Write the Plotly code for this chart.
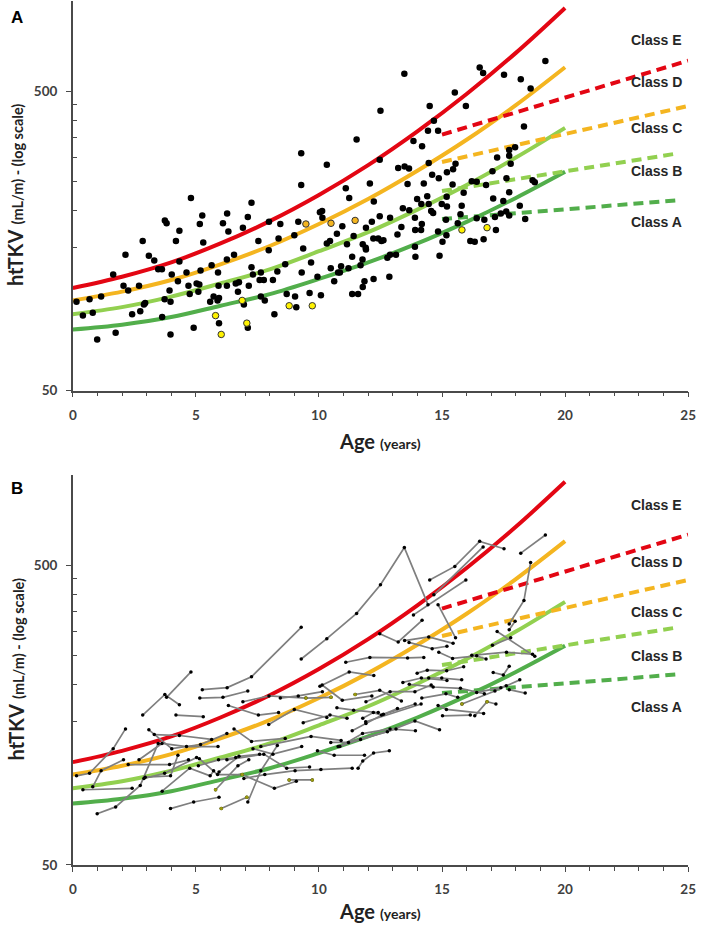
import math
import plotly.graph_objects as go

# ---------------- data ----------------
# class-boundary curves (htTKV, mL/m) read at ages 0..20
curve_age = [0, 2, 4, 6, 8, 10, 12, 14, 16, 18, 20]
bound_DE = [110, 120, 134, 155, 184, 225, 283, 367, 489, 671, 948]   # red
bound_CD = [100, 107, 117, 132, 152, 180, 218, 271, 344, 449, 601]   # yellow
bound_BC = [90, 95, 103, 114, 127, 146, 169, 201, 243, 300, 377]     # light green
bound_AB = [80, 83, 88, 96, 105, 118, 134, 155, 183, 220, 269]       # dark green

# adult (dashed) class boundaries
adult_age_DE = [15, 25]
adult_DE = [358, 632]
adult_age_CD = [15, 25]
adult_CD = [290, 446]
adult_age_BC = [15, 24.6]
adult_BC = [232, 310]
adult_age_AB = [15, 24.6]
adult_AB = [187, 216]

class_labels = ["Class E", "Class D", "Class C", "Class B", "Class A"]

# observations (age in years, htTKV)
obs_age = [9.28, 9.28, 13.47, 16.53, 16.67, 17.52, 18.2, 19.2, 18.6, 15.52, 14.5, 15.97, 12.5,
           14.67, 14.43, 14.84, 11.53, 18.33, 13.84, 14.19, 10.32, 12.47, 13.22, 13.48, 13.66,
           14.46, 15.55, 15.45, 15.2, 14.6, 14.87, 17.24, 17.73, 17.97, 17.73, 17.79, 17.05,
           17.62, 12.07, 11.09, 13.6, 14.26, 15.43, 16.21, 16.41, 16.79, 18.68, 18.77,
           4.8, 7.26, 6.27, 5.26, 7.11, 3.74, 3.81, 5.16, 6.1, 7.97, 8.43, 9.16, 4.33, 6.32, 6.91,
           2.84, 4.19, 5.3, 7.54, 8.36, 9.0, 9.36, 7.96, 2.14, 3.09, 3.31, 4.33, 6.55, 6.26, 3.47,
           3.62, 1.64, 4.02, 4.62, 5.19, 5.64, 5.9, 7.26, 7.32, 7.64, 7.59, 7.76, 8.31, 8.63, 9.3,
           9.68, 8.13, 2.06, 2.25, 2.69, 4.27, 4.7, 5.03, 5.14, 4.75, 5.1, 5.92, 6.26, 6.62, 6.75,
           7.15, 6.71, 3.93, 0.15, 0.68, 1.15, 2.94, 2.89, 2.41, 2.74, 0.41, 0.81, 3.73, 3.97,
           3.63, 5.58, 5.72, 5.88, 5.94, 6.95, 7.64, 7.8, 8.69, 9.03, 9.08, 9.62, 8.19, 5.94,
           4.91, 7.11, 1.74, 0.99, 3.97,
           11.23, 12.23, 10.04, 10.13, 10.14, 10.95, 12.15, 12.47, 12.89, 11.91, 10.73, 11.41,
           12.21, 12.41, 12.54, 12.62, 10.32, 10.45, 11.14, 11.78, 11.9, 11.91, 13.19, 13.35,
           13.41, 13.67, 13.99, 14.16, 14.4, 14.46, 14.56, 14.64, 15.19, 15.2, 14.99, 15.8,
           15.88, 15.75, 15.16, 15.64, 14.84, 15.18, 15.02, 14.9, 13.9, 14.18, 13.91, 14.15,
           12.89, 13.13, 12.78, 13.9, 13.92, 11.35, 11.77, 10.48, 10.78, 10.85, 10.9, 11.2,
           11.69, 9.94, 10.62, 11.85, 12.22, 12.86, 11.78, 11.59, 11.35, 10.08, 16.15, 16.33,
           16.69, 17.19, 16.41, 16.72, 17.15, 17.39, 17.61, 17.73, 17.49, 17.08, 17.73, 18.16,
           18.38]
obs_val = [310, 243, 572, 600, 575, 567, 548, 630, 510, 495, 446, 446, 430,
           398, 369, 369, 345, 381, 341, 327, 284, 295, 277, 280, 276,
           288, 286, 274, 268, 263, 256, 300, 318, 325, 304, 286, 270,
           256, 246, 237, 245, 246, 244, 250, 249, 243, 252, 248,
           220, 212, 195, 192, 190, 185, 181, 180, 181, 183, 180, 183, 171, 170, 175,
           158, 158, 156, 158, 161, 165, 149, 147, 142, 141, 136, 135, 142, 137, 127,
           127, 122, 122, 124, 126, 131, 124, 129, 122, 124, 117, 117, 125, 132, 124,
           134, 117, 112, 108, 112, 116, 112, 114, 113, 105, 107, 112, 112, 114, 115,
           112, 107, 108, 99, 101, 103, 98, 97, 90, 92, 89, 91, 101, 99,
           88, 99, 103, 100, 102, 97, 103, 100, 105, 103, 95, 106, 90, 84,
           81, 81, 78, 74, 77,
           220, 214, 197, 199, 189, 177, 183, 191, 189, 175, 167, 164,
           161, 161, 158, 159, 155, 158, 154, 154, 150, 148, 166, 176,
           203, 200, 218, 210, 223, 210, 199, 196, 222, 206, 210, 207,
           229, 194, 186, 181, 170, 165, 157, 141, 189, 180, 172, 172,
           142, 142, 139, 151, 140, 140, 137, 128, 124, 124, 130, 128,
           131, 120, 116, 116, 118, 120, 111, 105, 105, 104, 158, 157,
           160, 172, 188, 186, 190, 195, 198, 192, 215, 219, 230, 207,
           187]

yellow_age = [5.8, 7.07, 6.03, 6.88, 8.79, 9.73, 15.81, 16.83]
yellow_val = [89, 84, 77, 100, 96, 96, 172, 175]
orange_age = [9.47, 10.49, 11.47]
orange_val = [180, 181, 185]

# panel B: the same observations joined per patient (ages / values per patient)
traj_age = [
    [0.15, 0.68, 1.64, 2.14], [0.41, 2.41], [0.99, 1.74, 2.74, 3.47], [0.81, 1.15, 2.06],
    [2.25, 3.93, 4.7], [2.84, 3.74, 4.33], [3.81, 4.8], [2.69, 3.62, 4.62, 5.9],
    [2.89, 3.73, 5.03], [2.94, 3.97, 4.27], [3.09, 4.02, 5.19, 6.26], [3.31, 4.33, 5.64],
    [3.63, 4.75, 5.58, 5.72], [3.97, 4.91, 5.94], [6.03, 7.07], [7.11, 7.64, 8.31],
    [4.19, 5.3], [5.26, 6.27, 7.26, 9.28], [5.16, 6.1, 7.11], [6.91, 7.97, 9.47, 10.49],
    [6.32, 7.54, 8.36], [7.96, 9.0, 10.32], [6.55, 7.26, 8.63], [5.1, 5.92, 6.62],
    [5.14, 5.88, 6.88, 8.19, 9.08], [8.79, 9.73], [6.95, 7.8, 9.03, 10.08, 11.35],
    [7.32, 8.13, 9.3], [5.8, 6.71, 7.15], [5.94, 6.75, 7.59], [6.26, 7.76, 8.69, 9.62],
    [7.64, 9.68, 10.9], [8.43, 9.16, 10.14], [9.28, 10.32, 11.53, 12.5, 13.47, 14.43],
    [9.36, 10.45, 11.14], [9.94, 10.62, 11.85], [10.04, 11.23, 12.23], [10.13, 10.95, 12.15],
    [10.48, 11.2, 12.78, 13.9, 14.9], [10.73, 11.41, 12.41], [10.78, 11.69, 13.13],
    [10.85, 11.77, 12.89, 13.92], [11.09, 12.07, 13.6, 14.26], [11.35, 11.91, 12.62, 13.19],
    [11.59, 11.78, 12.22, 12.86], [11.47, 12.47, 13.35], [11.78, 12.21, 12.54, 13.91],
    [11.9, 14.15], [11.91, 12.89, 13.9, 14.56], [12.47, 13.22, 14.19], [13.48, 14.46, 15.45],
    [13.66, 14.6, 15.2], [13.41, 14.16, 15.2], [13.67, 14.64, 15.75, 16.72], [13.84, 15.97],
    [13.99, 14.4, 15.19, 15.88], [14.18, 15.16, 15.64], [14.5, 15.52, 16.53, 17.52],
    [14.67, 16.67], [14.84, 15.55], [14.87, 15.43, 16.41, 16.79], [14.84, 15.18, 16.69],
    [15.02, 16.15], [16.33, 16.83, 17.19], [15.81, 17.15, 18.16], [17.73, 18.38],
    [17.05, 17.79], [16.21, 17.62, 18.68], [17.73, 18.33, 18.6], [18.2, 19.2],
    [17.73, 17.97], [16.41, 17.39, 17.61], [17.08, 17.49, 17.73], [17.24, 18.77],
    [14.46, 14.99, 15.8],
]
traj_val = [
    [99, 101, 122, 142], [89, 90], [74, 78, 92, 127], [91, 103, 112],
    [108, 108, 112], [158, 185, 171], [181, 220], [112, 127, 124, 124],
    [97, 101, 114], [98, 99, 116], [141, 122, 126, 137], [136, 135, 131],
    [88, 105, 99, 103], [77, 81, 84], [77, 84], [81, 103, 125],
    [158, 156], [192, 195, 212, 310], [180, 181, 190], [175, 183, 180, 181],
    [170, 158, 161], [147, 165, 155], [142, 129, 132], [107, 112, 114],
    [113, 100, 100, 90, 95], [96, 96], [97, 100, 103, 104, 105],
    [122, 117, 124], [89, 107, 112], [102, 115, 117], [112, 117, 105, 106],
    [124, 134, 130], [180, 183, 189], [243, 284, 345, 430, 572, 369],
    [149, 158, 154], [120, 116, 116], [197, 220, 214], [199, 177, 183],
    [128, 128, 139, 151, 141], [167, 164, 161], [124, 131, 142],
    [124, 137, 142, 140], [237, 246, 245, 246], [140, 148, 159, 166],
    [105, 111, 118, 120], [185, 191, 176], [154, 161, 158, 172],
    [150, 172], [175, 189, 189, 199], [295, 277, 327], [280, 288, 274],
    [276, 263, 268], [203, 210, 206], [200, 196, 194, 186], [341, 446],
    [218, 223, 222, 229], [180, 186, 181], [446, 495, 600, 567],
    [398, 575], [369, 286], [256, 244, 249, 243], [170, 165, 160],
    [157, 158], [157, 175, 172], [172, 190, 207], [192, 187],
    [270, 286], [250, 256, 252], [318, 381, 510], [548, 630],
    [304, 325], [188, 195, 198], [219, 215, 230], [300, 248],
    [210, 210, 207],
]

# ---------------- styling ----------------
RED = "#E30613"
YEL = "#F4B520"
LGR = "#92D050"
DGR = "#52AE4B"
AX = "#4a4a4a"
W, H = 704, 928

fig = go.Figure()

panels = [("x", "y"), ("x2", "y2")]
for xa, ya in panels:
    for ages, vals, col in [(curve_age, bound_AB, DGR), (curve_age, bound_BC, LGR),
                            (curve_age, bound_CD, YEL), (curve_age, bound_DE, RED)]:
        fig.add_trace(go.Scatter(x=ages, y=vals, mode="lines", xaxis=xa, yaxis=ya,
                                 line=dict(color=col, width=4, shape="spline", smoothing=1.0),
                                 showlegend=False, hoverinfo="skip"))
    for ages, vals, col in [(adult_age_AB, adult_AB, DGR), (adult_age_BC, adult_BC, LGR),
                            (adult_age_CD, adult_CD, YEL), (adult_age_DE, adult_DE, RED)]:
        fig.add_trace(go.Scatter(x=ages, y=vals, mode="lines", xaxis=xa, yaxis=ya,
                                 line=dict(color=col, width=4, dash="10px,6px"),
                                 showlegend=False, hoverinfo="skip"))

# panel A points
fig.add_trace(go.Scatter(x=obs_age, y=obs_val, mode="markers", xaxis="x", yaxis="y",
                         marker=dict(color="black", size=6.5), showlegend=False))
fig.add_trace(go.Scatter(x=yellow_age, y=yellow_val, mode="markers", xaxis="x", yaxis="y",
                         marker=dict(color="#FFF200", size=6.5, line=dict(color="#333", width=1)),
                         showlegend=False))
fig.add_trace(go.Scatter(x=orange_age, y=orange_val, mode="markers", xaxis="x", yaxis="y",
                         marker=dict(color="#F4B520", size=6.5, line=dict(color="#333", width=1)),
                         showlegend=False))

# panel B trajectories
bx, by = [], []
for a, v in zip(traj_age, traj_val):
    bx += a + [None]
    by += v + [None]
fig.add_trace(go.Scatter(x=bx, y=by, mode="lines+markers", xaxis="x2", yaxis="y2",
                         line=dict(color="#7f7f7f", width=1.7),
                         marker=dict(color="black", size=3.5), connectgaps=False,
                         showlegend=False))
fig.add_trace(go.Scatter(x=yellow_age + orange_age, y=yellow_val + orange_val, mode="markers",
                         xaxis="x2", yaxis="y2",
                         marker=dict(color="#9a9a10", size=3.5), showlegend=False))

xdom = [70 / W, 696 / W]
ydomA = [1 - 394 / H, 1 - 1 / H]
ydomB = [1 - 872.3 / H, 1 - 479 / H]

tickfont = dict(family="Lato, Carlito, sans-serif", size=13.5, color="#404040", weight="bold")


def xaxis_cfg(anchor):
    return dict(domain=xdom, range=[0, 25], anchor=anchor, showline=True, linecolor=AX,
                linewidth=1.5, showgrid=False, zeroline=False, tickmode="array",
                tickvals=[0, 5, 10, 15, 20, 25], ticks="outside", ticklen=5, tickwidth=1.3,
                tickcolor=AX, tickfont=tickfont, ticklabelstandoff=6,
                minor=dict(tickvals=[i for i in range(26) if i % 5], ticks="outside",
                           ticklen=4, tickwidth=1.2, tickcolor=AX, showgrid=False))


def yaxis_cfg(anchor, dom):
    return dict(domain=dom, type="log", range=[math.log10(50), 3.0], anchor=anchor,
                showline=True, linecolor=AX, linewidth=1.5, showgrid=False, zeroline=False,
                tickmode="array", tickvals=[50, 500], ticktext=["50", "500"],
                ticks="outside", ticklen=5, tickwidth=1.3, tickcolor=AX, tickfont=tickfont,
                ticklabelstandoff=6,
                minor=dict(tickvals=[150, 200, 250, 300, 350, 400, 450], ticks="inside",
                           ticklen=4, tickwidth=1.2, tickcolor=AX, showgrid=False))


fig.update_layout(
    width=W, height=H, margin=dict(l=0, r=0, t=0, b=0),
    paper_bgcolor="white", plot_bgcolor="white",
    xaxis=xaxis_cfg("y"), yaxis=yaxis_cfg("x", ydomA),
    xaxis2=xaxis_cfg("y2"), yaxis2=yaxis_cfg("x2", ydomB),
    showlegend=False,
)

ann = []
lab_font = dict(family="Liberation Sans, Arial, sans-serif", size=14, color="#262626")
labA_y = [40, 83, 129, 172, 224]
labB_y = [509, 567, 617.5, 661.5, 713.5]
for txt, ya_, yb_ in zip(class_labels, labA_y, labB_y):
    ann.append(dict(text="<b>%s</b>" % txt, x=692 / W, y=1 - ya_ / H, xref="paper", yref="paper",
                    xanchor="right", yanchor="middle", showarrow=False, font=lab_font))
    ann.append(dict(text="<b>%s</b>" % txt, x=692 / W, y=1 - yb_ / H, xref="paper", yref="paper",
                    xanchor="right", yanchor="middle", showarrow=False, font=lab_font))

ttl_font = dict(family="Lato, Carlito, sans-serif", size=20, color="#222")
ytitle = "<b>htTKV</b> <span style='font-size:14.5px'><b>(mL/m) - (log scale)</b></span>"
xtitle = "<b>Age</b> <span style='font-size:14px'><b>(years)</b></span>"
for yc, xt in [(197, 445), (675.5, 919)]:
    ann.append(dict(text=ytitle, x=12 / W, y=1 - yc / H, xref="paper", yref="paper",
                    textangle=-90, xanchor="center", yanchor="middle", showarrow=False,
                    font=ttl_font))
    ann.append(dict(text=xtitle, x=383 / W, y=1 - xt / H, xref="paper", yref="paper",
                    xanchor="center", yanchor="middle", showarrow=False, font=ttl_font))

for t, yy in [("A", 18), ("B", 493)]:
    ann.append(dict(text="<b>%s</b>" % t, x=13 / W, y=1 - yy / H, xref="paper", yref="paper",
                    xanchor="center", yanchor="middle", showarrow=False,
                    font=dict(family="Liberation Sans, Arial, sans-serif", size=17, color="black")))

fig.update_layout(annotations=ann)

post = (
    "document.documentElement.style.margin='0';"
    "document.documentElement.style.overflow='hidden';"
    "document.body.style.margin='0';document.body.style.padding='0';"
    "document.body.style.overflow='hidden';"
    "var gd=document.getElementById('{plot_id}');"
    "var p=gd.parentElement; p.style.height='928px'; p.style.width='704px';"
    "p.style.overflow='hidden'; p.style.lineHeight='0';"
)
fig.write_html("out.html", config={"displayModeBar": False}, post_script=post)
